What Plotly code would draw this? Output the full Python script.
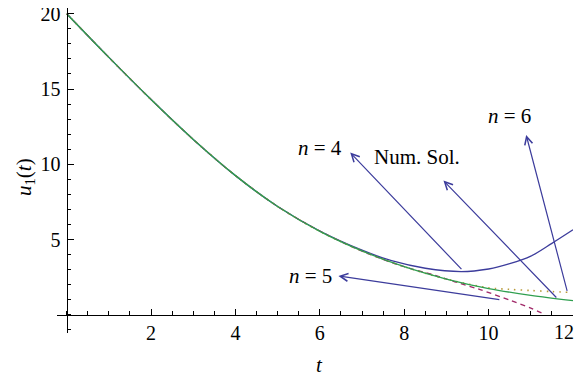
import plotly.graph_objects as go

# values
t_num = [0, 1, 2, 3, 4, 5, 6, 7, 8, 9, 10, 11, 12]
u_num = [20, 17.1, 14.3, 11.65, 9.25, 7.2, 5.55, 4.25, 3.2, 2.38, 1.75, 1.3, 0.95]

t_n4 = [0, 1, 2, 3, 4, 5, 6, 7, 7.7, 8.5, 9.35, 10, 10.5, 11, 11.5, 12]
u_n4 = [20, 17.1, 14.3, 11.65, 9.25, 7.2, 5.57, 4.3, 3.6, 3.1, 2.88, 3.05, 3.4, 3.9, 4.75, 5.65]

t_n5 = [0, 1, 2, 3, 4, 5, 6, 7, 8, 8.7, 9.2, 9.8, 10.5, 11, 11.3]
u_n5 = [20, 17.1, 14.3, 11.65, 9.25, 7.2, 5.57, 4.23, 3.2, 2.66, 2.2, 1.68, 0.98, 0.45, 0.08]

t_n6 = [0, 1, 2, 3, 4, 5, 6, 7, 8, 9, 10, 10.5, 11, 11.5, 11.9]
u_n6 = [20, 17.1, 14.3, 11.65, 9.25, 7.2, 5.55, 4.25, 3.2, 2.38, 1.8, 1.7, 1.62, 1.55, 1.5]

x_ticks = [2, 4, 6, 8, 10, 12]
x_ticktext = ['2', '4', '6', '8', '10', '']  # last one placed by hand so it is not clipped
y_ticks = [5, 10, 15, 20]

# labels: (text, t, u)
labels = [("<i>n</i> = 4", 6.0, 11.1),
          ("Num. Sol.", 8.3, 10.5),
          ("<i>n</i> = 6", 10.5, 13.2),
          ("<i>n</i> = 5", 5.77, 2.6)]
# arrows: (head t, head u, tail t, tail u)
arrows = [(6.72, 10.78, 9.39, 2.94),
          (8.93, 8.92, 11.64, 1.06),
          (10.89, 11.95, 11.87, 1.5),
          (6.44, 2.59, 10.29, 1.0)]

BLUE = '#3c3c9c'
GREEN = '#2f9f4f'
PURPLE = '#a02868'
GOLD = '#b89a3a'
FONT = 'Liberation Serif'

xr = [-0.23, 12.0]
yr = [-1.2, 20.38]

fig = go.Figure()
fig.add_trace(go.Scatter(x=t_n4, y=u_n4, mode='lines',
                         line=dict(color=BLUE, width=1.3, shape='spline', smoothing=0.9)))
fig.add_trace(go.Scatter(x=t_n5, y=u_n5, mode='lines',
                         line=dict(color=PURPLE, width=1.3, dash='5px,4px', shape='spline', smoothing=0.9)))
fig.add_trace(go.Scatter(x=t_n6, y=u_n6, mode='lines',
                         line=dict(color=GOLD, width=1.6, dash='1.5px,5px', shape='spline', smoothing=0.9)))
fig.add_trace(go.Scatter(x=t_num, y=u_num, mode='lines',
                         line=dict(color=GREEN, width=1.3, shape='spline', smoothing=0.9)))

for txt, tx, ty in labels:
    fig.add_annotation(x=tx, y=ty, text=txt, showarrow=False,
                       font=dict(family=FONT, size=21, color='black'))

for hx, hy, tx, ty in arrows:
    fig.add_annotation(x=hx, y=hy, ax=tx, ay=ty, axref='x', ayref='y', text='',
                       showarrow=True, arrowhead=5, arrowsize=1.3, arrowwidth=1.2,
                       arrowcolor=BLUE)

tick_font = dict(family=FONT, size=20, color='black')
fig.add_annotation(x=12, y=0, text='12', showarrow=False, xanchor='right', yanchor='middle',
                   xshift=3, yshift=-17, font=tick_font)

# axis titles
fig.add_annotation(x=6.0, y=-0.098, yref='paper', yanchor='middle', text='<i>t</i>', showarrow=False,
                   font=dict(family=FONT, size=21, color='black'))
fig.add_annotation(x=-0.062, y=0.48, xref='paper', yref='paper', xanchor='center', yanchor='middle',
                   textangle=-90, text='<i>u</i><sub>1</sub>(<i>t</i>)', showarrow=False,
                   font=dict(family=FONT, size=21, color='black'))

fig.update_xaxes(range=xr, anchor='free', position=(0 - yr[0]) / (yr[1] - yr[0]),
                 automargin=False, ticklabeloverflow='allow',
                 showline=True, linecolor='black', linewidth=1.2,
                 ticks='inside', ticklen=6, tickwidth=1, tickcolor='black',
                 tickmode='array', tickvals=x_ticks, ticktext=x_ticktext, ticklabelstandoff=0,
                 minor=dict(ticks='inside', ticklen=3.5, dtick=0.5, tick0=0, tickcolor='black', tickwidth=1),
                 showgrid=False, zeroline=False, tickfont=tick_font)
fig.update_yaxes(range=yr, anchor='free', position=(0 - xr[0]) / (xr[1] - xr[0]),
                 automargin=False, ticklabeloverflow='allow',
                 showline=True, linecolor='black', linewidth=1.2,
                 ticks='inside', ticklen=6, tickwidth=1, tickcolor='black',
                 tickmode='array', tickvals=y_ticks, ticklabelstandoff=2,
                 minor=dict(ticks='inside', ticklen=3.5, dtick=1, tick0=0, tickcolor='black', tickwidth=1),
                 showgrid=False, zeroline=False, tickfont=tick_font)

# the page adds an 8px body margin, so the plot area is placed to allow for it
fig.update_layout(width=584, height=371, showlegend=False,
                  margin=dict(l=49, r=19, t=0, b=46, pad=0),
                  paper_bgcolor='white', plot_bgcolor='white')

fig.write_html("out.html")
